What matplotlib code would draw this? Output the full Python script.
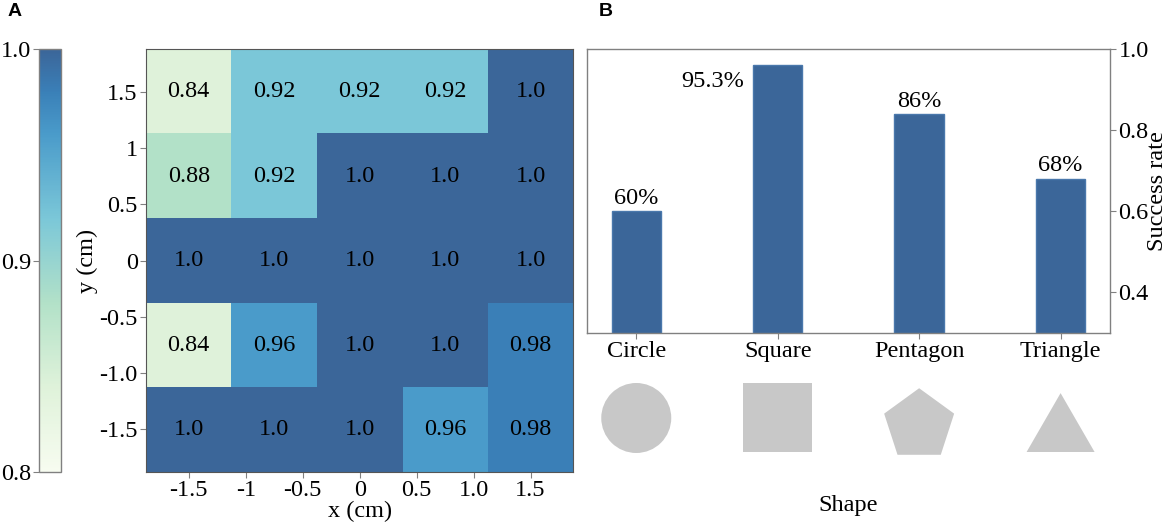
import numpy as np
import matplotlib
matplotlib.use("Agg")
import matplotlib.pyplot as plt
from matplotlib.colors import LinearSegmentedColormap

plt.rcParams['font.family'] = ['Liberation Serif', 'DejaVu Serif']

# DATA
# panel A: grid success rate, rows from top (y = 1.5) to bottom (y = -1.5)
grid_x = [-1.5, -0.75, 0.0, 0.75, 1.5]
grid_y = [1.5, 0.75, 0.0, -0.75, -1.5]
grid_rate = [
    [0.84, 0.92, 0.92, 0.92, 1.0],
    [0.88, 0.92, 1.0, 1.0, 1.0],
    [1.0, 1.0, 1.0, 1.0, 1.0],
    [0.84, 0.96, 1.0, 1.0, 0.98],
    [1.0, 1.0, 1.0, 0.96, 0.98],
]
x_ticks = [-1.5, -1.0, -0.5, 0.0, 0.5, 1.0, 1.5]
x_tick_labels = ['-1.5', '-1', '-0.5', '0', '0.5', '1.0', '1.5']
y_ticks = [1.5, 1.0, 0.5, 0.0, -0.5, -1.0, -1.5]
y_tick_labels = ['1.5', '1', '0.5', '0', '-0.5', '-1.0', '-1.5']
cbar_ticks = [0.8, 0.9, 1.0]

# panel B: success rate per shape
shapes = ['Circle', 'Square', 'Pentagon', 'Triangle']
shape_rate = [0.60, 0.96, 0.84, 0.68]
rate_labels = ['60%', '95.3%', '86%', '68%']
rate_ticks = [0.4, 0.6, 0.8, 1.0]

# colours
cmap = LinearSegmentedColormap.from_list('succ', [
    (0.0, '#f7fcf0'), (0.2, '#dff2da'), (0.4, '#b2e1c8'),
    (0.6, '#7bc7d8'), (0.8, '#4a9bca'), (0.9, '#3a80b8'), (1.0, '#3b6699')])
bar_color = '#3b6699'
spine_gray = '#808080'
fs = 17.5

fig = plt.figure(figsize=(11.7, 5.32), dpi=100)

# ---- A: heatmap + colorbar
ax_h = fig.add_axes([0.1248, 0.1133, 0.3652, 0.794])
cax = fig.add_axes([0.0336, 0.1133, 0.0185, 0.794])

half = (grid_x[1] - grid_x[0]) / 2
im = ax_h.imshow(np.array(grid_rate), cmap=cmap, vmin=0.8, vmax=1.0,
                 extent=[grid_x[0] - half, grid_x[-1] + half,
                         grid_y[-1] - half, grid_y[0] + half],
                 origin='upper', aspect='auto', interpolation='nearest')
for i, yv in enumerate(grid_y):
    for j, xv in enumerate(grid_x):
        v = grid_rate[i][j]
        txt = '1.0' if v >= 1 else f'{v:.2f}'
        ax_h.text(xv, yv, txt, ha='center', va='center', fontsize=fs, color='black')
ax_h.set_xticks(x_ticks)
ax_h.set_xticklabels(x_tick_labels)
ax_h.set_yticks(y_ticks)
ax_h.set_yticklabels(y_tick_labels)
ax_h.tick_params(labelsize=fs, length=4, color=spine_gray, pad=2)
ax_h.set_xlabel('x (cm)', fontsize=fs, labelpad=0)
ax_h.set_ylabel('y (cm)', fontsize=fs, labelpad=1)
for sp in ax_h.spines.values():
    sp.set_color('#555555')
    sp.set_linewidth(0.8)

cb = fig.colorbar(im, cax=cax, ticks=cbar_ticks)
cb.ax.yaxis.set_ticks_position('left')
cb.ax.set_yticklabels(['0.8', '0.9', '1.0'])
cb.ax.tick_params(labelsize=fs, length=4, color=spine_gray, pad=2)
cb.outline.set_edgecolor(spine_gray)
cb.outline.set_linewidth(1.0)

# ---- B: bar chart
ax_b = fig.add_axes([0.5015, 0.3746, 0.4473, 0.5333])
xpos = np.arange(len(shapes))
ax_b.bar(xpos, shape_rate, width=0.35, color=bar_color,
         edgecolor='#4a78ac', linewidth=1.0, zorder=2)
label_dx = [0.0, -0.46, 0.0, 0.0]
label_dy = [0.018, -0.054, 0.016, 0.018]
for x, v, lab, dx, dy in zip(xpos, shape_rate, rate_labels, label_dx, label_dy):
    ax_b.text(x + dx, v + dy, lab, ha='center', va='baseline', fontsize=fs)
ax_b.set_xlim(-0.35, 3.35)
ax_b.set_ylim(0.3, 1.0)
ax_b.set_xticks(xpos)
ax_b.set_xticklabels(shapes)
ax_b.yaxis.tick_right()
ax_b.yaxis.set_label_position('right')
ax_b.set_yticks(rate_ticks)
ax_b.set_yticklabels(['0.4', '0.6', '0.8', '1.0'])
ax_b.set_ylabel('Success rate', fontsize=fs, labelpad=-1)
ax_b.tick_params(labelsize=fs, length=4, color=spine_gray, pad=2)
for sp in ax_b.spines.values():
    sp.set_color(spine_gray)
    sp.set_linewidth(1.0)

# shape icons under the bars
ax_s = fig.add_axes([0.5015, 0.1203, 0.4473, 0.188])
ax_s.set_xlim(ax_b.get_xlim())
ax_s.set_ylim(-1, 1)
ax_s.axis('off')
pent = [(np.cos(np.radians(90 + 72 * k)), np.sin(np.radians(90 + 72 * k)) - 0.191) for k in range(5)]
tri = [(-1, -1), (1, -1), (0, 0.732)]
markers = ['o', 's', pent, tri]
px = 0.72  # points per pixel at 100 dpi
sizes = [(70 * px) ** 2, (69 * px) ** 2, (73.6 * px) ** 2, (68 * px) ** 2]
for x, m, s in zip(xpos, markers, sizes):
    ax_s.scatter([x], [0], marker=m, s=s, color='#c8c8c8', edgecolors='none')

fig.text(848 / 1170, 1 - 505 / 532, 'Shape', ha='center', va='center', fontsize=fs)

# panel letters
fig.text(15 / 1170, 1 - 12 / 532, 'A', ha='center', va='center', fontsize=14,
         fontweight='bold', family='Liberation Sans')
fig.text(606 / 1170, 1 - 12 / 532, 'B', ha='center', va='center', fontsize=14,
         fontweight='bold', family='Liberation Sans')

fig.savefig('out.png', dpi=100)
